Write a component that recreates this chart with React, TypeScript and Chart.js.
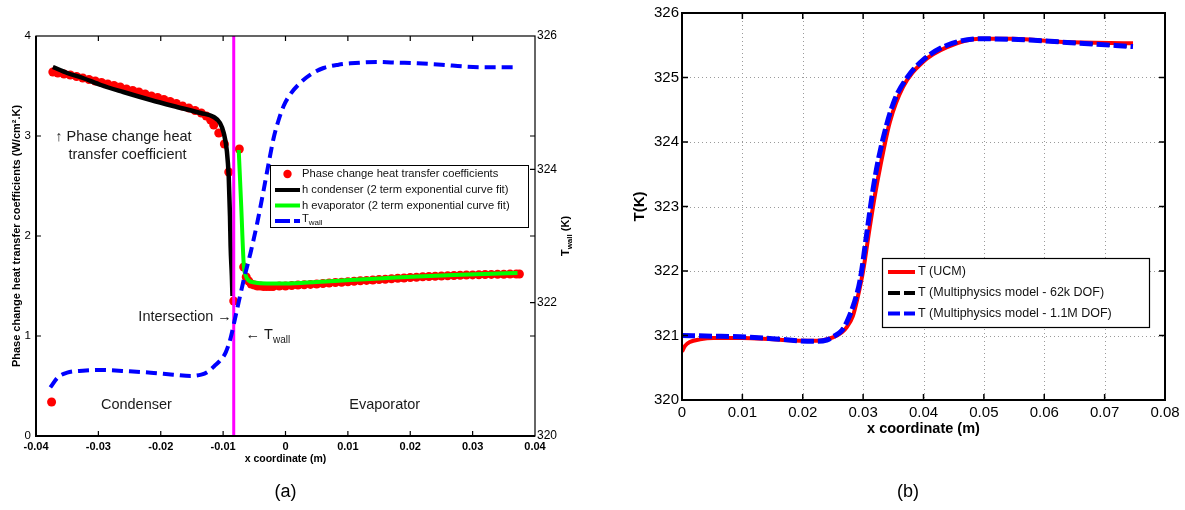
import React, { useEffect, useRef } from "react";
import { Chart, registerables } from "chart.js";

Chart.register(...registerables);

const FONT = '"Liberation Sans", Arial, Helvetica, sans-serif';

// ---------------- Panel (a) data ----------------
const aXTicks = [-0.04, -0.03, -0.02, -0.01, 0, 0.01, 0.02, 0.03, 0.04];
const aHTicks = [0, 1, 2, 3, 4];
const aTwallTicks = [320, 322, 324, 326];

// Phase change heat transfer coefficients (red dots), [x (m), h (W/cm2.K)]
const hOutlierPoints = [[-0.0375, 0.34]];
const hCondenserPoints = [
  [-0.0373, 3.64], [-0.0365, 3.63], [-0.0355, 3.62], [-0.0345, 3.61], [-0.0335, 3.595],
  [-0.0325, 3.58], [-0.0315, 3.565], [-0.0305, 3.55], [-0.0295, 3.535], [-0.0285, 3.52],
  [-0.0275, 3.505], [-0.0265, 3.49], [-0.0255, 3.47], [-0.0245, 3.455], [-0.0235, 3.44],
  [-0.0225, 3.42], [-0.0215, 3.4], [-0.0205, 3.385], [-0.0195, 3.365], [-0.0185, 3.345],
  [-0.0175, 3.325], [-0.0165, 3.3], [-0.0155, 3.28], [-0.0145, 3.255], [-0.0135, 3.23],
  [-0.0127, 3.2], [-0.012, 3.16], [-0.0115, 3.11], [-0.0107, 3.03], [-0.0098, 2.92],
  [-0.0091, 2.64], [-0.0083, 1.35],
];
const hEvaporatorPoints = [
  [-0.0074, 2.87], [-0.0067, 1.69], [-0.0063, 1.59], [-0.0059, 1.55], [-0.0055, 1.52],
  [-0.005, 1.51], [-0.0045, 1.5], [-0.004, 1.5], [-0.0035, 1.495], [-0.003, 1.495],
  [-0.0025, 1.495], [-0.002, 1.495], [-0.001, 1.5], [0, 1.5], [0.001, 1.505],
  [0.002, 1.51], [0.003, 1.512], [0.004, 1.516], [0.005, 1.52], [0.006, 1.525],
  [0.007, 1.53], [0.008, 1.535], [0.009, 1.538], [0.01, 1.542], [0.011, 1.548],
  [0.012, 1.552], [0.013, 1.556], [0.014, 1.56], [0.015, 1.565], [0.016, 1.568],
  [0.017, 1.572], [0.018, 1.577], [0.019, 1.58], [0.02, 1.585], [0.021, 1.588],
  [0.022, 1.592], [0.023, 1.595], [0.024, 1.598], [0.025, 1.6], [0.026, 1.602],
  [0.027, 1.605], [0.028, 1.607], [0.029, 1.61], [0.03, 1.611], [0.031, 1.613],
  [0.032, 1.615], [0.033, 1.616], [0.034, 1.617], [0.035, 1.618], [0.036, 1.62],
  [0.037, 1.62], [0.0375, 1.62],
];
// h condenser fit (black)
const hCondenserFit = [
  [-0.0373, 3.69], [-0.035, 3.63], [-0.0325, 3.58], [-0.0296, 3.51], [-0.026, 3.44],
  [-0.0216, 3.36], [-0.018, 3.3], [-0.0136, 3.23], [-0.0115, 3.19], [-0.0105, 3.13],
  [-0.0099, 3.03], [-0.0094, 2.85], [-0.0091, 2.59], [-0.0089, 2.2], [-0.0088, 1.9],
  [-0.0086, 1.6], [-0.0085, 1.4],
];
// h evaporator fit (green)
const hEvaporatorFit = [
  [-0.0075, 2.86], [-0.0071, 2.3], [-0.0067, 1.72], [-0.0064, 1.61], [-0.0059, 1.555],
  [-0.005, 1.535], [-0.003, 1.525], [0, 1.525], [0.005, 1.54], [0.0104, 1.56],
  [0.015, 1.575], [0.0212, 1.595], [0.027, 1.61], [0.032, 1.62], [0.0372, 1.63],
];
// T wall (blue dashed, right axis, K)
const twallCurve = [
  [-0.0377, 320.73], [-0.0365, 320.88], [-0.035, 320.95], [-0.0325, 320.98], [-0.0297, 320.99],
  [-0.025, 320.97], [-0.0216, 320.95], [-0.018, 320.92], [-0.0152, 320.9], [-0.0135, 320.92],
  [-0.0125, 320.96], [-0.0114, 321.05], [-0.0104, 321.14], [-0.0096, 321.25], [-0.0088, 321.47],
  [-0.008, 321.8], [-0.0067, 322.34], [-0.0056, 322.75], [-0.0045, 323.21], [-0.0035, 323.69],
  [-0.0027, 324.09], [-0.0019, 324.47], [-0.0011, 324.74], [-0.0003, 324.95], [0.0008, 325.13],
  [0.0024, 325.3], [0.004, 325.42], [0.0061, 325.52], [0.0085, 325.57], [0.0104, 325.59],
  [0.0147, 325.61], [0.018, 325.6], [0.0212, 325.59], [0.025, 325.57], [0.029, 325.54],
  [0.033, 325.53], [0.0372, 325.53],
];
const intersectionX = -0.0083;
const hRange = [0, 4];
const twallRange = [320, 326];

// ---------------- Panel (b) data ----------------
const bXTicks = [0, 0.01, 0.02, 0.03, 0.04, 0.05, 0.06, 0.07, 0.08];
const bTTicks = [320, 321, 322, 323, 324, 325, 326];
const tUCM = [
  [0, 320.75], [0.0005, 320.84], [0.0013, 320.9], [0.003, 320.94], [0.0052, 320.96],
  [0.01, 320.96], [0.015, 320.94], [0.02, 320.92], [0.0225, 320.92], [0.025, 320.97],
  [0.0265, 321.05], [0.0273, 321.13], [0.0283, 321.3], [0.029, 321.55], [0.03, 322.0],
  [0.0311, 322.68], [0.032, 323.2], [0.0328, 323.6], [0.0344, 324.3], [0.0366, 324.85],
  [0.0399, 325.24], [0.0439, 325.47], [0.0494, 325.6], [0.0548, 325.6], [0.0631, 325.55],
  [0.0747, 325.53],
];
const tMulti62k = [
  [0, 321.0], [0.005, 320.99], [0.0096, 320.98], [0.015, 320.95], [0.0217, 320.91],
  [0.024, 320.93], [0.025, 320.98], [0.0265, 321.08], [0.0273, 321.2], [0.0285, 321.48],
  [0.0295, 321.84], [0.0306, 322.55], [0.0317, 323.27], [0.0328, 323.83], [0.035, 324.58],
  [0.0373, 325.0], [0.0399, 325.27], [0.0439, 325.5], [0.0494, 325.6], [0.0576, 325.58],
  [0.0659, 325.53], [0.0747, 325.48],
];
const tMulti1M = [
  [0, 321.0], [0.005, 320.99], [0.0096, 320.98], [0.015, 320.95], [0.0217, 320.91],
  [0.024, 320.93], [0.025, 320.98], [0.0265, 321.08], [0.0273, 321.21], [0.0285, 321.5],
  [0.0295, 321.86], [0.0306, 322.58], [0.0317, 323.3], [0.0328, 323.85], [0.035, 324.6],
  [0.0373, 325.0], [0.0399, 325.27], [0.0439, 325.5], [0.0494, 325.6], [0.0576, 325.58],
  [0.0659, 325.53], [0.0747, 325.48],
];

// ---------------- helpers ----------------
const xy = (arr: number[][]) => arr.map(([x, y]) => ({ x, y }));
const fmt = (v: number) => String(Math.round(v * 1000) / 1000 + 0);
const setTicks = (vals: number[]) => (s: any) => {
  s.ticks = vals.map((v) => ({ value: v }));
};

function drawSubText(
  ctx: CanvasRenderingContext2D,
  x: number,
  y: number,
  main: string,
  sub: string,
  tail: string,
  size: number,
  weight: string,
  align: "left" | "center" | "right"
) {
  const mf = `${weight} ${size}px ${FONT}`;
  const sf = `${weight} ${Math.round(size * 0.72)}px ${FONT}`;
  ctx.font = mf;
  const w1 = ctx.measureText(main).width;
  const w3 = ctx.measureText(tail).width;
  ctx.font = sf;
  const w2 = ctx.measureText(sub).width;
  const total = w1 + w2 + w3;
  let sx = x;
  if (align === "center") sx = x - total / 2;
  else if (align === "right") sx = x - total;
  ctx.textAlign = "left";
  ctx.textBaseline = "middle";
  ctx.font = mf;
  ctx.fillText(main, sx, y);
  ctx.font = sf;
  ctx.fillText(sub, sx + w1, y + size * 0.38);
  ctx.font = mf;
  if (tail) ctx.fillText(tail, sx + w1 + w2, y);
}

function drawInwardTicks(chart: any, yIds: string[], len: number, lw: number, mirrorFirstY: boolean) {
  const { ctx, chartArea: ca } = chart;
  const xs = chart.scales.x;
  ctx.save();
  ctx.strokeStyle = "#000";
  ctx.lineWidth = lw;
  ctx.beginPath();
  for (const t of xs.ticks) {
    const px = xs.getPixelForValue(t.value);
    if (px <= ca.left + 1 || px >= ca.right - 1) continue;
    ctx.moveTo(px, ca.bottom);
    ctx.lineTo(px, ca.bottom - len);
    ctx.moveTo(px, ca.top);
    ctx.lineTo(px, ca.top + len);
  }
  yIds.forEach((id, i) => {
    const ys = chart.scales[id];
    const isRight = ys.position === "right";
    for (const t of ys.ticks) {
      const py = ys.getPixelForValue(t.value);
      if (py <= ca.top + 1 || py >= ca.bottom - 1) continue;
      if (!isRight) {
        ctx.moveTo(ca.left, py);
        ctx.lineTo(ca.left + len, py);
        if (mirrorFirstY || i === 0) {
          ctx.moveTo(ca.right, py);
          ctx.lineTo(ca.right - len, py);
        }
      } else {
        ctx.moveTo(ca.right, py);
        ctx.lineTo(ca.right - len, py);
      }
    }
  });
  ctx.stroke();
  ctx.restore();
}

// ---------------- Panel (a) plugin ----------------
const panelAPlugin = {
  id: "panelA",
  afterDatasetsDraw(chart: any) {
    const { ctx, chartArea: ca } = chart;
    const xs = chart.scales.x;
    const ys = chart.scales.y;
    ctx.save();
    ctx.strokeStyle = "#000";
    ctx.lineWidth = 1.2;
    ctx.strokeRect(ca.left, ca.top, ca.right - ca.left, ca.bottom - ca.top);
    ctx.lineWidth = 2;
    ctx.beginPath();
    ctx.moveTo(ca.left, ca.top);
    ctx.lineTo(ca.left, ca.bottom);
    ctx.lineTo(ca.right, ca.bottom);
    ctx.stroke();
    ctx.restore();
    drawInwardTicks(chart, ["y", "y2"], 5, 1.2, true);

    // annotations
    ctx.save();
    ctx.fillStyle = "#1a1a1a";
    ctx.font = `14.5px ${FONT}`;
    ctx.textBaseline = "middle";
    ctx.textAlign = "left";
    ctx.fillText("\u2191 Phase change heat", xs.getPixelForValue(-0.0369), ys.getPixelForValue(2.99));
    ctx.fillText("transfer coefficient", xs.getPixelForValue(-0.0348), ys.getPixelForValue(2.81));
    ctx.textAlign = "right";
    ctx.fillText("Intersection \u2192", xs.getPixelForValue(-0.0086), ys.getPixelForValue(1.19));
    ctx.textAlign = "center";
    ctx.fillText("Condenser", xs.getPixelForValue(-0.0239), ys.getPixelForValue(0.31));
    ctx.fillText("Evaporator", xs.getPixelForValue(0.0159), ys.getPixelForValue(0.31));
    drawSubText(ctx, xs.getPixelForValue(-0.0064), ys.getPixelForValue(1.01), "\u2190 T", "wall", "", 14.5, "normal", "left");

    // legend
    const lx = 270, ly = 165, lw = 258, lh = 62;
    ctx.fillStyle = "#fff";
    ctx.fillRect(lx, ly, lw, lh);
    ctx.strokeStyle = "#000";
    ctx.lineWidth = 1;
    ctx.strokeRect(lx + 0.5, ly + 0.5, lw, lh);
    const rows = [174, 190, 205.5, 221];
    const s0 = 275, s1 = 300, tx = 302;
    ctx.fillStyle = "#ff0000";
    ctx.beginPath();
    ctx.arc(287.5, rows[0], 4.2, 0, Math.PI * 2);
    ctx.fill();
    ctx.lineWidth = 4;
    ctx.strokeStyle = "#000";
    ctx.beginPath();
    ctx.moveTo(s0, rows[1]);
    ctx.lineTo(s1, rows[1]);
    ctx.stroke();
    ctx.strokeStyle = "#00ff00";
    ctx.beginPath();
    ctx.moveTo(s0, rows[2]);
    ctx.lineTo(s1, rows[2]);
    ctx.stroke();
    ctx.strokeStyle = "#0000ff";
    ctx.setLineDash([15, 4]);
    ctx.beginPath();
    ctx.moveTo(s0, rows[3]);
    ctx.lineTo(s1, rows[3]);
    ctx.stroke();
    ctx.setLineDash([]);
    ctx.fillStyle = "#111";
    ctx.font = `11.2px ${FONT}`;
    ctx.textAlign = "left";
    ctx.textBaseline = "middle";
    ctx.fillText("Phase change heat transfer coefficients", tx, rows[0]);
    ctx.fillText("h condenser (2 term exponential curve fit)", tx, rows[1]);
    ctx.fillText("h evaporator (2 term exponential curve fit)", tx, rows[2]);
    drawSubText(ctx, tx, rows[3] - 2, "T", "wall", "", 11.2, "normal", "left");

    // right axis title
    ctx.save();
    ctx.translate(566, (ca.top + ca.bottom) / 2);
    ctx.rotate(-Math.PI / 2);
    ctx.fillStyle = "#000";
    drawSubText(ctx, 0, 0, "T", "wall", " (K)", 11, "bold", "center");
    ctx.restore();

    // panel label
    ctx.fillStyle = "#000";
    ctx.font = `18px ${FONT}`;
    ctx.textAlign = "center";
    ctx.textBaseline = "middle";
    ctx.fillText("(a)", (ca.left + ca.right) / 2, 492);
    ctx.restore();
  },
};

// ---------------- Panel (b) plugin ----------------
const panelBPlugin = {
  id: "panelB",
  beforeDatasetsDraw(chart: any) {
    const { ctx, chartArea: ca } = chart;
    const xs = chart.scales.x;
    const ys = chart.scales.y;
    ctx.save();
    ctx.strokeStyle = "#9a9a9a";
    ctx.lineWidth = 1;
    ctx.setLineDash([1, 3]);
    ctx.beginPath();
    for (const t of xs.ticks) {
      const px = Math.round(xs.getPixelForValue(t.value)) + 0.5;
      if (px <= ca.left + 2 || px >= ca.right - 2) continue;
      ctx.moveTo(px, ca.top);
      ctx.lineTo(px, ca.bottom);
    }
    for (const t of ys.ticks) {
      const py = Math.round(ys.getPixelForValue(t.value)) + 0.5;
      if (py <= ca.top + 2 || py >= ca.bottom - 2) continue;
      ctx.moveTo(ca.left, py);
      ctx.lineTo(ca.right, py);
    }
    ctx.stroke();
    ctx.restore();
  },
  afterDatasetsDraw(chart: any) {
    const { ctx, chartArea: ca } = chart;
    ctx.save();
    ctx.strokeStyle = "#000";
    ctx.lineWidth = 2;
    ctx.strokeRect(ca.left, ca.top, ca.right - ca.left, ca.bottom - ca.top);
    ctx.restore();
    drawInwardTicks(chart, ["y"], 6, 1.5, true);

    ctx.save();
    const lx = 292, ly = 258, lw = 267, lh = 69;
    ctx.fillStyle = "#fff";
    ctx.fillRect(lx, ly, lw, lh);
    ctx.strokeStyle = "#000";
    ctx.lineWidth = 1.2;
    ctx.strokeRect(lx + 0.5, ly + 0.5, lw, lh);
    const rows = [272, 293, 313.5];
    const s0 = 298, s1 = 325, tx = 328;
    ctx.lineWidth = 4;
    ctx.strokeStyle = "#ff0000";
    ctx.beginPath();
    ctx.moveTo(s0, rows[0]);
    ctx.lineTo(s1, rows[0]);
    ctx.stroke();
    ctx.setLineDash([12, 4]);
    ctx.strokeStyle = "#000";
    ctx.beginPath();
    ctx.moveTo(s0, rows[1]);
    ctx.lineTo(s1, rows[1]);
    ctx.stroke();
    ctx.strokeStyle = "#0000ff";
    ctx.beginPath();
    ctx.moveTo(s0, rows[2]);
    ctx.lineTo(s1, rows[2]);
    ctx.stroke();
    ctx.setLineDash([]);
    ctx.fillStyle = "#111";
    ctx.font = `12.5px ${FONT}`;
    ctx.textAlign = "left";
    ctx.textBaseline = "middle";
    ctx.fillText("T (UCM)", tx, rows[0]);
    ctx.fillText("T (Multiphysics model - 62k DOF)", tx, rows[1]);
    ctx.fillText("T (Multiphysics model - 1.1M DOF)", tx, rows[2]);

    ctx.fillStyle = "#000";
    ctx.font = `18px ${FONT}`;
    ctx.textAlign = "center";
    ctx.fillText("(b)", 318, 492);
    ctx.restore();
  },
};

function configA(): any {
  return {
    type: "scatter",
    data: {
      datasets: [
        {
          label: "T wall",
          data: xy(twallCurve),
          yAxisID: "y2",
          showLine: true,
          borderColor: "#0000ff",
          borderWidth: 4,
          borderDash: [11, 6],
          pointRadius: 0,
          cubicInterpolationMode: "monotone",
          order: 1,
        },
        {
          label: "Intersection",
          data: [
            { x: intersectionX, y: hRange[0] },
            { x: intersectionX, y: hRange[1] },
          ],
          yAxisID: "y",
          showLine: true,
          borderColor: "#ff00ff",
          borderWidth: 3,
          pointRadius: 0,
          order: 2,
        },
        {
          label: "h evaporator (2 term exponential curve fit)",
          data: xy(hEvaporatorFit),
          yAxisID: "y",
          showLine: true,
          borderColor: "#00ff00",
          borderWidth: 4,
          pointRadius: 0,
          cubicInterpolationMode: "monotone",
          order: 3,
        },
        {
          label: "h condenser (2 term exponential curve fit)",
          data: xy(hCondenserFit),
          yAxisID: "y",
          showLine: true,
          borderColor: "#000000",
          borderWidth: 4.5,
          pointRadius: 0,
          cubicInterpolationMode: "monotone",
          order: 4,
        },
        {
          label: "Phase change heat transfer coefficients",
          data: xy([...hOutlierPoints, ...hCondenserPoints, ...hEvaporatorPoints]),
          yAxisID: "y",
          showLine: false,
          pointRadius: 4.5,
          pointBackgroundColor: "#ff0000",
          pointBorderWidth: 0,
          order: 5,
        },
      ],
    },
    options: {
      responsive: false,
      animation: false,
      events: [],
      layout: { padding: { top: 36, left: 0, right: 0, bottom: 0 } },
      plugins: { legend: { display: false }, tooltip: { enabled: false } },
      scales: {
        x: {
          type: "linear",
          min: aXTicks[0],
          max: aXTicks[aXTicks.length - 1],
          afterBuildTicks: setTicks(aXTicks),
          afterFit: (s: any) => {
            s.height = 74;
          },
          grid: { display: false, drawTicks: false },
          border: { display: false },
          ticks: {
            autoSkip: false,
            maxRotation: 0,
            padding: 4,
            color: "#000",
            font: { family: FONT, size: 11, weight: "bold" },
            callback: (v: number) => fmt(v),
          },
          title: {
            display: true,
            text: "x coordinate (m)",
            color: "#000",
            font: { family: FONT, size: 10.5, weight: "bold" },
            padding: { top: 0, bottom: 45 },
          },
        },
        y: {
          type: "linear",
          position: "left",
          min: hRange[0],
          max: hRange[1],
          afterBuildTicks: setTicks(aHTicks),
          afterFit: (s: any) => {
            s.width = 36;
          },
          grid: { display: false, drawTicks: false },
          border: { display: false },
          ticks: {
            padding: 5,
            color: "#000",
            font: { family: FONT, size: 11.5 },
            callback: (v: number) => fmt(v),
          },
          title: {
            display: true,
            text: "Phase change heat transfer coefficients (W/cm\u00b2.K)",
            color: "#000",
            font: { family: FONT, size: 11, weight: "bold" },
            padding: { top: 10, bottom: 0 },
          },
        },
        y2: {
          type: "linear",
          position: "right",
          min: twallRange[0],
          max: twallRange[1],
          afterBuildTicks: setTicks(aTwallTicks),
          afterFit: (s: any) => {
            s.width = 55;
          },
          grid: { display: false, drawTicks: false },
          border: { display: false },
          ticks: {
            padding: 2,
            color: "#000",
            font: { family: FONT, size: 12 },
            callback: (v: number) => fmt(v),
          },
        },
      },
    },
    plugins: [panelAPlugin],
  };
}

function configB(): any {
  return {
    type: "scatter",
    data: {
      datasets: [
        {
          label: "T (Multiphysics model - 1.1M DOF)",
          data: xy(tMulti1M),
          showLine: true,
          borderColor: "#0000ff",
          borderWidth: 5,
          borderDash: [13, 4],
          borderDashOffset: 0,
          pointRadius: 0,
          cubicInterpolationMode: "monotone",
          order: 1,
        },
        {
          label: "T (Multiphysics model - 62k DOF)",
          data: xy(tMulti62k),
          showLine: true,
          borderColor: "#000000",
          borderWidth: 3.5,
          borderDash: [8, 9],
          borderDashOffset: 12,
          pointRadius: 0,
          cubicInterpolationMode: "monotone",
          order: 2,
        },
        {
          label: "T (UCM)",
          data: xy(tUCM),
          showLine: true,
          borderColor: "#ff0000",
          borderWidth: 4,
          pointRadius: 0,
          cubicInterpolationMode: "monotone",
          order: 3,
        },
      ],
    },
    options: {
      responsive: false,
      animation: false,
      events: [],
      layout: { padding: { top: 13, left: 0, right: 20, bottom: 0 } },
      plugins: { legend: { display: false }, tooltip: { enabled: false } },
      scales: {
        x: {
          type: "linear",
          min: bXTicks[0],
          max: bXTicks[bXTicks.length - 1],
          afterBuildTicks: setTicks(bXTicks),
          afterFit: (s: any) => {
            s.height = 110;
          },
          grid: { display: false, drawTicks: false },
          border: { display: false },
          ticks: {
            autoSkip: false,
            maxRotation: 0,
            padding: 4,
            color: "#000",
            font: { family: FONT, size: 15 },
            callback: (v: number) => fmt(v),
          },
          title: {
            display: true,
            text: "x coordinate (m)",
            color: "#000",
            font: { family: FONT, size: 14.5, weight: "bold" },
            padding: { top: 0, bottom: 72 },
          },
        },
        y: {
          type: "linear",
          position: "left",
          min: bTTicks[0],
          max: bTTicks[bTTicks.length - 1],
          afterBuildTicks: setTicks(bTTicks),
          afterFit: (s: any) => {
            s.width = 92;
          },
          grid: { display: false, drawTicks: false },
          border: { display: false },
          ticks: {
            padding: 3,
            color: "#000",
            font: { family: FONT, size: 15 },
            callback: (v: number) => fmt(v),
          },
          title: {
            display: true,
            text: "T(K)",
            color: "#000",
            font: { family: FONT, size: 15, weight: "bold" },
            padding: { top: 41, bottom: 0 },
          },
        },
      },
    },
    plugins: [panelBPlugin],
  };
}

export default function App() {
  const refA = useRef<HTMLCanvasElement>(null);
  const refB = useRef<HTMLCanvasElement>(null);
  useEffect(() => {
    const a = new Chart(refA.current as HTMLCanvasElement, configA());
    const b = new Chart(refB.current as HTMLCanvasElement, configB());
    return () => {
      a.destroy();
      b.destroy();
    };
  }, []);
  return (
    <div style={{ position: "absolute", left: 0, top: 0, width: 1185, height: 510, background: "#fff" }}>
      <canvas
        ref={refA}
        width={590}
        height={510}
        style={{ position: "absolute", left: 0, top: 0, width: 590, height: 510 }}
      />
      <canvas
        ref={refB}
        width={595}
        height={510}
        style={{ position: "absolute", left: 590, top: 0, width: 595, height: 510 }}
      />
    </div>
  );
}
